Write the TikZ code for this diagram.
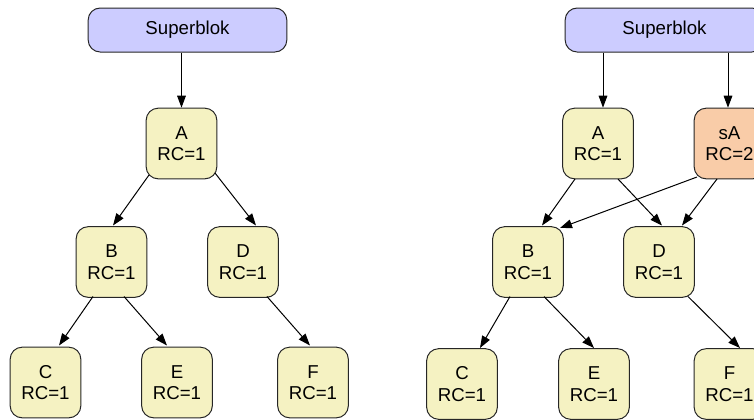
\documentclass[tikz,border=0pt]{standalone}
\usepackage{fontspec}
\setmainfont{Liberation Sans}
\usetikzlibrary{arrows.meta,calc}

\definecolor{sbfill}{HTML}{CCCCFF}
\definecolor{blkfill}{HTML}{F5F2C2}
\definecolor{kopfill}{HTML}{F9CCA8}

\tikzset{
    blok/.style={draw=black!85, line width=0.75pt, fill=blkfill, rounded corners=9pt,
        minimum width=53pt, minimum height=53pt, inner sep=0pt, align=center,
        font=\fontsize{14}{16}\selectfont},
    superblok/.style={blok, fill=sbfill, minimum width=149pt, minimum height=33pt},
    kopia/.style={blok, fill=kopfill},
    ptr/.style={line width=0.75pt, -{Triangle[length=9pt,width=6.5pt]}}
}

\begin{document}
\begin{tikzpicture}[x=0.75pt,y=-0.75pt]
            \clip (0,0) rectangle (754,419);

            \node (sb) at (187.5,30) [superblok] {Superblok};
            \node (A) at (181.5,143.5) [blok] {A\\RC=1};
            \node (B) at (111.5,262) [blok] {B\\RC=1};
            \node (D) at (243,262) [blok] {D\\RC=1};
            \node (C) at (45.5,382.5) [blok] {C\\RC=1};
            \node (E) at (177,382.5) [blok] {E\\RC=1};
            \node (F) at (313,382.5) [blok] {F\\RC=1};

            \node (sb2) at (664.5,30) [superblok] {Superblok};
            \node (A2) at (598,143.5) [blok] {A\\RC=1};
            \node (sA) at (729.5,143.5) [kopia] {sA\\RC=2};
            \node (B2) at (528,262) [blok] {B\\RC=1};
            \node (D2) at (659,262) [blok] {D\\RC=1};
            \node (C2) at (462,384) [blok] {C\\RC=1};
            \node (E2) at (594,384) [blok] {E\\RC=1};
            \node (F2) at (729.5,384) [blok] {F\\RC=1};

            \draw [ptr] (A |- sb.south) -- (A.north);
            \draw [ptr] ($(A2 |- sb2.south) + (5,0)$) -- ($(A2.north) + (5,0)$);
            \draw [ptr] ($(sA |- sb2.south) + (-1.5,0)$) -- ($(sA.north) + (-1.5,0)$);

            \foreach \p/\sx/\sy/\c/\ex/\ey in {
                    A/-32.5/31.5/B/1.5/-36.5,   A/33.5/29.5/D/13/-36.5,
                    B/-18.5/34.5/C/13.5/-37,    B/12.5/34.5/E/-10/-37,
                    D/24/34.5/F/-3/-37,
                    A2/-23/35.5/B2/14/-36.5,    A2/20/35.5/D2/3/-36.5,
                    sA/-32.5/33.5/B2/32/-34,    sA/-12.5/35.5/D2/23/-36.5,
                    B2/-18/34.5/C2/18/-36,      B2/16/34.5/E2/0/-36,
                    D2/29/34.5/F2/10.5/-36}
                {
                    \draw [ptr] ($(\p) + (\sx,\sy)$) -- ($(\c) + (\ex,\ey)$);
                }

        \end{tikzpicture}
\end{document}
